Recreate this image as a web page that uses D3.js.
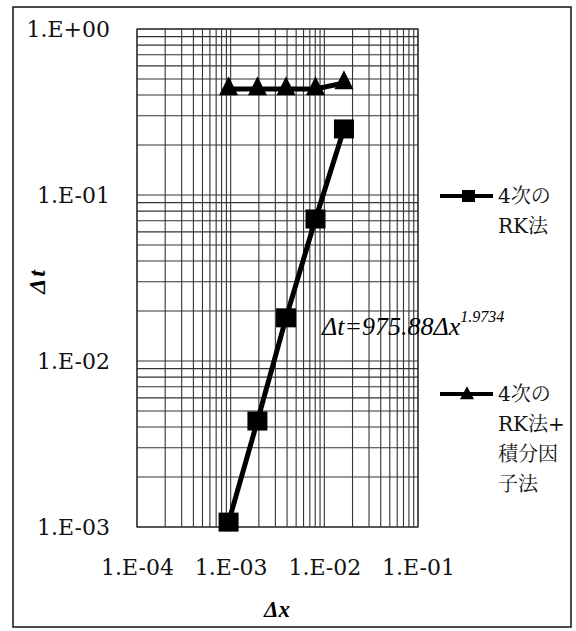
<!DOCTYPE html>
<html>
<head>
<meta charset="utf-8">
<script src="https://cdn.jsdelivr.net/npm/d3@7"></script>
<style>
  body { margin: 0; background: #fff; }
  svg { display: block; }
  .serif { font-family: "DejaVu Serif", "Liberation Serif", "Times New Roman", "Noto Serif", "Noto Serif CJK JP", "Noto Sans CJK JP", serif; }
  .italic { font-family: "Liberation Serif", "Times New Roman", "DejaVu Serif", serif; font-style: italic; }
</style>
</head>
<body>
<svg id="chart" width="576" height="631"></svg>
<script>
// data
const dxRK = [0.00095, 0.00193, 0.0039, 0.00805, 0.0162];
const dtRK = [0.00107, 0.00435, 0.0182, 0.0717, 0.25];
const dxRKIF = [0.00095, 0.00193, 0.0039, 0.00805, 0.0162];
const dtRKIF = [0.435, 0.435, 0.435, 0.435, 0.473];

const xTickValues = [1e-4, 1e-3, 1e-2, 1e-1];
const xTickLabels = ["1.E-04", "1.E-03", "1.E-02", "1.E-01"];
const yTickValues = [1e-3, 1e-2, 1e-1, 1];
const yTickLabels = ["1.E-03", "1.E-02", "1.E-01", "1.E+00"];

const seriesNames = [["4次の", "RK法"], ["4次の", "RK法+", "積分因", "子法"]];

const svg = d3.select("#chart");

// outer frame
svg.append("rect")
  .attr("x", 13).attr("y", 7)
  .attr("width", 558).attr("height", 620)
  .attr("fill", "#fff")
  .attr("stroke", "#111")
  .attr("stroke-width", 1.5);

const plot = { left: 137, right: 418, top: 29, bottom: 527 };

const x = d3.scaleLog().domain([1e-4, 1e-1]).range([plot.left, plot.right]);
const y = d3.scaleLog().domain([1e-3, 1]).range([plot.bottom, plot.top]);

// grid (major + minor on both axes)
const grid = svg.append("g").attr("stroke", "#333").attr("stroke-width", 1.1);
grid.selectAll(".vgrid")
  .data(x.ticks())
  .enter()
  .append("line")
  .attr("class", "vgrid")
  .attr("x1", (d) => x(d)).attr("x2", (d) => x(d))
  .attr("y1", plot.top).attr("y2", plot.bottom);
grid.selectAll(".hgrid")
  .data(y.ticks())
  .enter()
  .append("line")
  .attr("class", "hgrid")
  .attr("y1", (d) => y(d)).attr("y2", (d) => y(d))
  .attr("x1", plot.left).attr("x2", plot.right);

svg.append("rect")
  .attr("x", plot.left).attr("y", plot.top)
  .attr("width", plot.right - plot.left)
  .attr("height", plot.bottom - plot.top)
  .attr("fill", "none")
  .attr("stroke", "#333")
  .attr("stroke-width", 1.3);

// axes
svg.append("g")
  .attr("transform", `translate(0,${plot.bottom})`)
  .call(d3.axisBottom(x).tickValues(xTickValues)
    .tickFormat((d, i) => xTickLabels[i]).tickSize(0).tickPadding(32))
  .call((g) => g.select(".domain").remove())
  .call((g) => g.attr("font-family", null).attr("font-size", null))
  .call((g) => g.selectAll("text")
    .attr("class", "serif")
    .style("font-size", "22px")
    .attr("fill", "#111"));

svg.append("g")
  .attr("transform", `translate(${plot.left},0)`)
  .call(d3.axisLeft(y).tickValues(yTickValues)
    .tickFormat((d, i) => yTickLabels[i]).tickSize(0).tickPadding(27))
  .call((g) => g.select(".domain").remove())
  .call((g) => g.attr("font-family", null).attr("font-size", null))
  .call((g) => g.selectAll("text")
    .attr("class", "serif")
    .style("font-size", "22px")
    .attr("fill", "#111"));

// axis titles
svg.append("text")
  .attr("class", "italic")
  .attr("x", 277).attr("y", 617)
  .attr("text-anchor", "middle")
  .style("font-size", "23px")
  .style("font-weight", "bold")
  .text("Δx");

svg.append("text")
  .attr("class", "italic")
  .attr("transform", "translate(45,281) rotate(-90)")
  .attr("text-anchor", "middle")
  .style("font-size", "24px")
  .style("font-weight", "bold")
  .style("letter-spacing", "2px")
  .text("Δt");

// series
const line = d3.line().x((d) => x(d[0])).y((d) => y(d[1]));
const rkPts = dxRK.map((d, i) => [d, dtRK[i]]);
const ifPts = dxRKIF.map((d, i) => [d, dtRKIF[i]]);

function triPath(w, h) {
  return `M0,${-h * 2 / 3}L${w / 2},${h / 3}L${-w / 2},${h / 3}Z`;
}

svg.append("path")
  .datum(ifPts)
  .attr("d", line)
  .attr("fill", "none")
  .attr("stroke", "#000")
  .attr("stroke-width", 5);

svg.selectAll(".tri")
  .data(ifPts)
  .enter()
  .append("path")
  .attr("class", "tri")
  .attr("transform", (d) => `translate(${x(d[0])},${y(d[1])})`)
  .attr("d", triPath(19, 19))
  .attr("fill", "#000");

svg.append("path")
  .datum(rkPts)
  .attr("d", line)
  .attr("fill", "none")
  .attr("stroke", "#000")
  .attr("stroke-width", 5);

svg.selectAll(".sq")
  .data(rkPts)
  .enter()
  .append("rect")
  .attr("class", "sq")
  .attr("x", (d) => x(d[0]) - 10)
  .attr("y", (d) => y(d[1]) - 9.5)
  .attr("width", 20)
  .attr("height", 19)
  .attr("fill", "#000");

// fit annotation
const ann = svg.append("text")
  .attr("class", "italic")
  .attr("x", 322).attr("y", 335)
  .style("font-size", "26px")
  .attr("fill", "#000");
ann.append("tspan").text("Δt=975.88Δx");
ann.append("tspan")
  .attr("dy", -13)
  .style("font-size", "16px")
  .text("1.9734");

// legend
const legendY = [196, 394];
const legend = svg.append("g");
legendY.forEach((ly, i) => {
  legend.append("line")
    .attr("x1", 440).attr("x2", 493)
    .attr("y1", ly).attr("y2", ly)
    .attr("stroke", "#000")
    .attr("stroke-width", 4);
  if (i === 0) {
    legend.append("rect")
      .attr("x", 462).attr("y", ly - 6)
      .attr("width", 13).attr("height", 12)
      .attr("fill", "#000");
  } else {
    legend.append("path")
      .attr("transform", `translate(467,${ly + 1})`)
      .attr("d", triPath(14, 13))
      .attr("fill", "#000");
  }
  const t = legend.append("text")
    .attr("class", "serif")
    .attr("x", 498)
    .attr("y", ly + 7)
    .style("font-size", "20px")
    .attr("fill", "#111");
  seriesNames[i].forEach((s, j) => {
    t.append("tspan")
      .attr("x", 498)
      .attr("dy", j === 0 ? 0 : 30)
      .text(s);
  });
});
</script>
</body>
</html>
